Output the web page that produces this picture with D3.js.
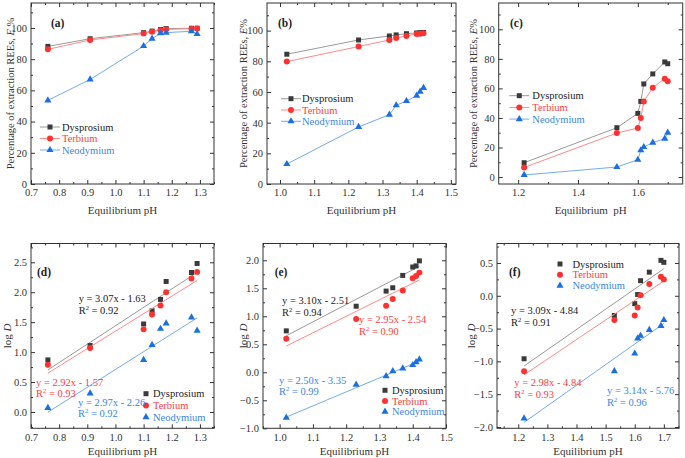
<!DOCTYPE html>
<html>
<head>
<meta charset="utf-8">
<script src="https://cdn.jsdelivr.net/npm/d3@7"></script>
<style>
  body { margin: 0; background: #fff; }
  svg { display: block; }
  text { font-family: "Liberation Serif", "Times New Roman", serif; }
</style>
</head>
<body>
<div id="chart"></div>
<script>
// equilibrium pH of each run
const phA = [0.76, 0.91, 1.10, 1.13, 1.16, 1.18, 1.27, 1.29];
const phB = [1.02, 1.23, 1.32, 1.34, 1.37, 1.40, 1.41, 1.42];
const phC = [1.22, 1.53, 1.60, 1.61, 1.62, 1.65, 1.69, 1.70];

// extraction E% (panels a-c)
const eDyA = [88.2, 93.1, 97.0, 98.0, 99.0, 99.6, 99.8, 99.8];
const eTbA = [86.3, 92.3, 96.4, 97.6, 98.6, 99.1, 99.5, 99.7];
const eNdA = [53.6, 67.0, 88.4, 93.1, 96.6, 97.0, 97.9, 96.1];

const eDyB = [84.6, 93.9, 96.5, 97.2, 98.0, 98.5, 98.7, 98.8];
const eTbB = [79.8, 89.6, 93.9, 95.2, 96.5, 97.8, 98.0, 98.3];
const eNdB = [13.0, 37.2, 45.2, 51.3, 54.1, 57.6, 60.2, 62.6];

const eDyC = [9.7, 33.4, 43.1, 51.2, 63.0, 69.8, 77.9, 76.7];
const eTbC = [6.5, 29.8, 33.2, 40.0, 51.2, 60.5, 66.6, 64.8];
const eNdC = [1.4, 6.8, 11.7, 18.1, 20.3, 23.3, 26.0, 30.0];

// log D (panels d-f)
const dDyD = [0.87, 1.11, 1.47, 1.69, 1.88, 2.18, 2.33, 2.48];
const dTbD = [0.79, 1.07, 1.38, 1.63, 1.78, 2.00, 2.23, 2.34];
const dNdD = [0.07, 0.31, 0.87, 1.12, 1.39, 1.48, 1.58, 1.36];

const dDyE = [0.74, 1.18, 1.45, 1.51, 1.73, 1.88, 1.90, 1.99];
const dTbE = [0.60, 0.95, 1.19, 1.31, 1.46, 1.68, 1.72, 1.78];
const dNdE = [-0.81, -0.22, -0.07, 0.02, 0.07, 0.13, 0.18, 0.23];

const dDyF = [-0.96, -0.30, -0.12, 0.02, 0.23, 0.36, 0.54, 0.51];
const dTbF = [-1.15, -0.37, -0.30, -0.18, 0.01, 0.18, 0.29, 0.25];
const dNdF = [-1.87, -1.15, -0.88, -0.65, -0.61, -0.52, -0.46, -0.37];

// linear fits: slope, intercept, R2  (Dy, Tb, Nd)
const fitD = [[3.07, -1.63, 0.92], [2.92, -1.57, 0.93], [2.97, -2.26, 0.92]];
const fitE = [[3.10, -2.51, 0.94], [2.95, -2.54, 0.90], [2.50, -3.35, 0.99]];
const fitF = [[3.09, -4.84, 0.91], [2.98, -4.84, 0.93], [3.14, -5.76, 0.96]];

const elements = ["Dysprosium", "Terbium", "Neodymium"];
const markColor = ["#3a3a3a", "#ff3030", "#1c6fe0"];
const lineColor = ["#9a9a9a", "#ff8a8a", "#74abf0"];
const textColor = ["#222", "#ff4040", "#3a86e8"];
const symbols = [d3.symbolSquare, d3.symbolCircle, d3.symbolTriangle];
const symSize = [25, 28, 22];

const W = 685, H = 458;
const svg = d3.select("#chart").append("svg")
    .attr("width", W)
    .attr("height", H);

function ticks(a, b, step) {
  let out = [];
  for (let i = Math.ceil(a / step - 1e-6); i * step <= b + 1e-9; i++) out.push(+(i * step).toFixed(4));
  return out;
}

function panel(p) {
  let x = d3.scaleLinear().domain(p.xdom).range([p.box[0], p.box[1]]);
  let y = d3.scaleLinear().domain(p.ydom).range([p.box[3], p.box[2]]);
  let g = svg.append("g");

  // frame
  g.append("rect")
      .attr("x", p.box[0]).attr("y", p.box[2])
      .attr("width", p.box[1] - p.box[0]).attr("height", p.box[3] - p.box[2])
      .attr("fill", "none").attr("stroke", "#333").attr("stroke-width", 1);

  let xMaj = ticks(p.xdom[0], p.xdom[1], p.xstep);
  let xMin = ticks(p.xdom[0], p.xdom[1], p.xstep / 2).filter(v => !xMaj.some(m => Math.abs(m - v) < 1e-6));
  let yMaj = ticks(p.ydom[0], p.ydom[1], p.ystep);
  let yMin = ticks(p.ydom[0], p.ydom[1], p.ystep / 2).filter(v => !yMaj.some(m => Math.abs(m - v) < 1e-6));

  // ticks point inward on all four sides
  [[d3.axisBottom, p.box[3], true], [d3.axisTop, p.box[2], false]].forEach(([ax, pos, lab]) => {
    g.append("g").attr("transform", `translate(0,${pos})`)
        .call(ax(x).tickValues(xMaj).tickSize(-4).tickPadding(5)
          .tickFormat(lab ? d3.format(p.xfmt) : ""));
    g.append("g").attr("transform", `translate(0,${pos})`)
        .call(ax(x).tickValues(xMin).tickSize(-2).tickFormat(""));
  });
  [[d3.axisLeft, p.box[0], true], [d3.axisRight, p.box[1], false]].forEach(([ax, pos, lab]) => {
    g.append("g").attr("transform", `translate(${pos},0)`)
        .call(ax(y).tickValues(yMaj).tickSize(-4).tickPadding(4)
          .tickFormat(lab ? d3.format(p.yfmt) : ""));
    g.append("g").attr("transform", `translate(${pos},0)`)
        .call(ax(y).tickValues(yMin).tickSize(-2).tickFormat(""));
  });
  g.selectAll(".domain").remove();
  g.selectAll(".tick line").attr("stroke", "#333");
  g.selectAll(".tick text").attr("fill", "#333").style("font-size", "10.5px")
      .style("font-family", "'Liberation Serif', serif");

  // axis titles
  let cx = (p.box[0] + p.box[1]) / 2, cy = (p.box[2] + p.box[3]) / 2;
  g.append("text")
      .attr("x", cx).attr("y", p.box[3] + p.xto)
      .attr("text-anchor", "middle").attr("font-size", 11).attr("fill", "#333")
      .style("white-space", "pre")
      .text(p.xtitle);
  let yt = g.append("text")
      .attr("transform", `translate(${p.ytx},${cy}) rotate(-90)`)
      .attr("text-anchor", "middle").attr("font-size", 10.5).attr("fill", "#333");
  if (p.top) {
    yt.append("tspan").text("Percentage of extraction REEs, ");
    yt.append("tspan").attr("font-style", "italic").text("E");
    yt.append("tspan").text(p.pct);
  } else {
    yt.append("tspan").attr("font-size", 11).text("log ");
    yt.append("tspan").attr("font-size", 11).attr("font-style", "italic").text("D");
  }

  // panel letter
  g.append("text")
      .attr("x", p.lab[0]).attr("y", p.lab[1])
      .attr("font-size", 11.5).attr("font-weight", "bold").attr("fill", "#222")
      .text(p.letter);

  // series
  p.series.forEach((vals, i) => {
    let pts = p.ph.map((v, k) => [v, vals[k]]);
    if (p.top) {
      g.append("path")
          .datum(pts)
          .attr("d", d3.line().x(d => x(d[0])).y(d => y(d[1])))
          .attr("fill", "none").attr("stroke", lineColor[i]).attr("stroke-width", 1);
    } else {
      let f = p.fit[i];
      let xs = d3.extent(p.ph);
      g.append("line")
          .attr("x1", x(xs[0])).attr("y1", y(f[0] * xs[0] + f[1]))
          .attr("x2", x(xs[1])).attr("y2", y(f[0] * xs[1] + f[1]))
          .attr("stroke", lineColor[i]).attr("stroke-width", 1);
    }
    g.selectAll(null)
        .data(pts)
        .enter().append("path")
        .attr("transform", d => `translate(${x(d[0])},${y(d[1])})`)
        .attr("d", d3.symbol().type(symbols[i]).size(symSize[i]))
        .attr("fill", markColor[i]);
  });

  // legend
  p.series.forEach((vals, i) => {
    let ly = p.leg[1] + i * p.leg[2];
    if (p.top) {
      g.append("line")
          .attr("x1", p.leg[0]).attr("x2", p.leg[0] + 20)
          .attr("y1", ly).attr("y2", ly)
          .attr("stroke", lineColor[i]).attr("stroke-width", 1);
    }
    g.append("path")
        .attr("transform", `translate(${p.leg[0] + 10},${ly})`)
        .attr("d", d3.symbol().type(symbols[i]).size(symSize[i]))
        .attr("fill", markColor[i]);
    g.append("text")
        .attr("x", p.leg[0] + p.leg[3]).attr("y", ly + 3.5)
        .attr("font-size", 10.5).attr("fill", textColor[i])
        .text(elements[i]);
  });

  // fit equations
  if (!p.top) {
    p.eq.forEach((e, i) => {
      let f = p.fit[i];
      let sign = f[1] < 0 ? "-" : "+";
      g.append("text")
          .attr("x", e[0]).attr("y", e[1] + 4)
          .attr("font-size", 10.5).attr("fill", textColor[i])
          .style("white-space", "pre")
          .text(`y = ${f[0].toFixed(2)}x ${sign} ${Math.abs(f[1]).toFixed(2)}`);
      let r = g.append("text")
          .attr("x", e[0]).attr("y", e[2] + 4)
          .attr("font-size", 10.5).attr("fill", textColor[i]);
      r.append("tspan").text("R");
      r.append("tspan").attr("font-size", 6.5).attr("dy", -4).text("2");
      r.append("tspan").attr("dy", 4).text(` = ${f[2].toFixed(2)}`);
    });
  }
}

panel({ top: true, letter: "(a)", ph: phA, series: [eDyA, eTbA, eNdA],
  box: [31, 214, 3, 184], xdom: [0.7, 1.35], ydom: [0, 116],
  xstep: 0.1, ystep: 20, xfmt: ".1f", yfmt: "d", xto: 30,
  xtitle: "Equilibrium pH", ytx: 14, pct: " %", lab: [51, 27], leg: [40, 127, 11.5, 22] });

panel({ top: true, letter: "(b)", ph: phB, series: [eDyB, eTbB, eNdB],
  box: [267, 456, 3, 184], xdom: [0.962, 1.515], ydom: [0, 118],
  xstep: 0.1, ystep: 20, xfmt: ".1f", yfmt: "d", xto: 30,
  xtitle: "Equilibrium pH", ytx: 247, pct: "%", lab: [278, 27], leg: [281, 98.7, 11.3, 21] });

panel({ top: true, letter: "(c)", ph: phC, series: [eDyC, eTbC, eNdC],
  box: [498.7, 682.7, 3, 184], xdom: [1.135, 1.75], ydom: [-4.7, 117.8],
  xstep: 0.2, ystep: 20, xfmt: ".1f", yfmt: "d", xto: 30,
  xtitle: "Equilibrium  pH", ytx: 477, pct: "%", lab: [510, 27], leg: [509.3, 95.7, 11.7, 23] });

panel({ top: false, letter: "(d)", ph: phA, series: [dDyD, dTbD, dNdD], fit: fitD,
  box: [31, 214, 243.5, 428.3], xdom: [0.7, 1.35], ydom: [-0.272, 2.814],
  xstep: 0.1, ystep: 0.5, xfmt: ".1f", yfmt: ".1f", xto: 26.5,
  xtitle: "Equilibrium pH", ytx: 11, lab: [37, 276], leg: [136, 393.7, 11.7, 17],
  eq: [[78.7, 298.3, 310], [36, 381.7, 393], [78, 402.3, 413]] });

panel({ top: false, letter: "(e)", ph: phB, series: [dDyE, dTbE, dNdE], fit: fitE,
  box: [263, 446, 243.5, 428.3], xdom: [0.95, 1.5], ydom: [-1.0, 2.30],
  xstep: 0.1, ystep: 0.5, xfmt: ".1f", yfmt: ".1f", xto: 26.5,
  xtitle: "Equilibrium pH", ytx: 247, lab: [274.7, 276], leg: [375, 390.3, 10.7, 17],
  eq: [[282, 299.7, 311.7], [359, 319, 330.7], [279, 379.7, 391]] });

panel({ top: false, letter: "(f)", ph: phC, series: [dDyF, dTbF, dNdF], fit: fitF,
  box: [497, 679, 243.5, 428.3], xdom: [1.127, 1.752], ydom: [-2.02, 0.797],
  xstep: 0.1, ystep: 0.5, xfmt: ".1f", yfmt: ".1f", xto: 26.5,
  xtitle: "Equilibrium pH", ytx: 475, lab: [509, 276], leg: [550, 264, 10.8, 22.5],
  eq: [[511, 310, 322], [514.3, 381.7, 394], [607, 389.7, 402.3]] });
</script>
</body>
</html>
